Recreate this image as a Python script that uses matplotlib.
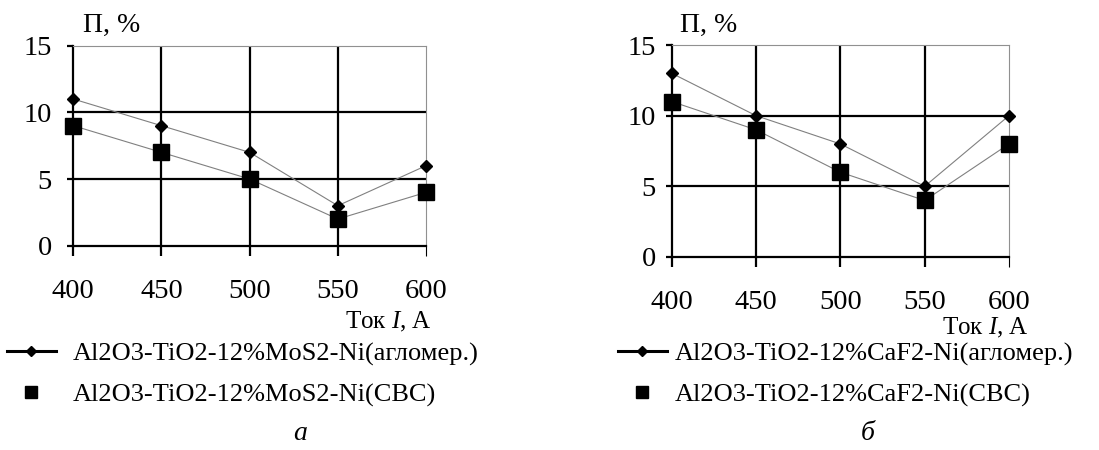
import matplotlib
matplotlib.use("Agg")
import matplotlib.pyplot as plt
from matplotlib.lines import Line2D

plt.rcParams['font.family'] = 'Liberation Serif'
plt.rcParams['mathtext.fontset'] = 'custom'
plt.rcParams['mathtext.rm'] = 'Liberation Serif'
plt.rcParams['mathtext.it'] = 'Liberation Serif:italic'

# porosity (%) vs spraying current (A)
currents = [400, 450, 500, 550, 600]
mos2_aglo = [11, 9, 7, 3, 6]
mos2_svs = [9, 7, 5, 2, 4]
caf2_aglo = [13, 10, 8, 5, 10]
caf2_svs = [11, 9, 6, 4, 8]

labels_a = ['Al2O3-TiO2-12%MoS2-Ni(агломер.)', 'Al2O3-TiO2-12%MoS2-Ni(СВС)']
labels_b = ['Al2O3-TiO2-12%CaF2-Ni(агломер.)', 'Al2O3-TiO2-12%CaF2-Ni(СВС)']
yticks = [0, 5, 10, 15]

W, H = 1099, 450
fig = plt.figure(figsize=(W/100, H/100), dpi=100)

def px_axes(x0, x1, ytop, ybot):
    return fig.add_axes([x0/W, 1-ybot/H, (x1-x0)/W, (ybot-ytop)/H])

def panel(ax, y1, y2, ypad):
    ax.plot(currents, y1, color='#808080', lw=0.8, marker='D', ms=6,
            mfc='k', mec='k', zorder=4, clip_on=False)
    ax.plot(currents, y2, color='#808080', lw=0.8, marker='s', ms=11,
            mfc='k', mec='k', zorder=4, clip_on=False)
    ax.set_xlim(400, 600)
    ax.set_ylim(0, 15)
    ax.set_xticks(currents)
    ax.set_yticks(yticks)
    for v in currents[1:-1]:
        ax.axvline(v, color='k', lw=1.6, zorder=2)
    for v in yticks[1:-1]:
        ax.axhline(v, color='k', lw=1.6, zorder=2)
    for s in ['left', 'bottom']:
        ax.spines[s].set_color('k')
        ax.spines[s].set_linewidth(1.6)
    for s in ['top', 'right']:
        ax.spines[s].set_color('#909090')
        ax.spines[s].set_linewidth(0.8)
    ax.tick_params(axis='x', direction='out', length=7, width=1.6, pad=17, labelsize=20.5)
    ax.tick_params(axis='y', direction='out', length=4.5, width=1.6, pad=ypad, labelsize=20.5)
    last = ax.xaxis.get_major_ticks()[-1].tick1line
    last.set_color('#909090')
    last.set_markeredgewidth(0.8)

def legend(x, y, labels, textpad):
    handles = [Line2D([], [], color='k', lw=2.2, marker='D', ms=5.5, mfc='k', mec='k'),
               Line2D([], [], ls='none', marker='s', ms=8.5, mfc='k', mec='k')]
    fig.legend(handles, labels, loc='upper left', bbox_to_anchor=(x/W, 1-y/H),
               frameon=False, fontsize=19, handlelength=1.85, handletextpad=textpad,
               labelspacing=0.65, borderpad=0, borderaxespad=0)

ax1 = px_axes(73.3, 426, 45.7, 245.7)
panel(ax1, mos2_aglo, mos2_svs, 11)
ax2 = px_axes(671.7, 1009, 45, 257)
panel(ax2, caf2_aglo, caf2_svs, 7)

fig.text(83/W, 1-25/H, 'П, %', fontsize=20, ha='left', va='center')
fig.text(680/W, 1-25/H, 'П, %', fontsize=20, ha='left', va='center')
fig.text(432/W, 1-322/H, 'Ток $\\mathit{I}$, А', fontsize=18, ha='right', va='center')
fig.text(1029/W, 1-328/H, 'Ток $\\mathit{I}$, А', fontsize=18, ha='right', va='center')

legend(7, 342, labels_a, 0.64)
legend(618, 342, labels_b, 0.3)

fig.text(300/W, 1-433/H, 'а', fontsize=20, style='italic', ha='center', va='center')
fig.text(868/W, 1-433/H, 'б', fontsize=20, style='italic', ha='center', va='center')

fig.savefig('out.png', dpi=100)
